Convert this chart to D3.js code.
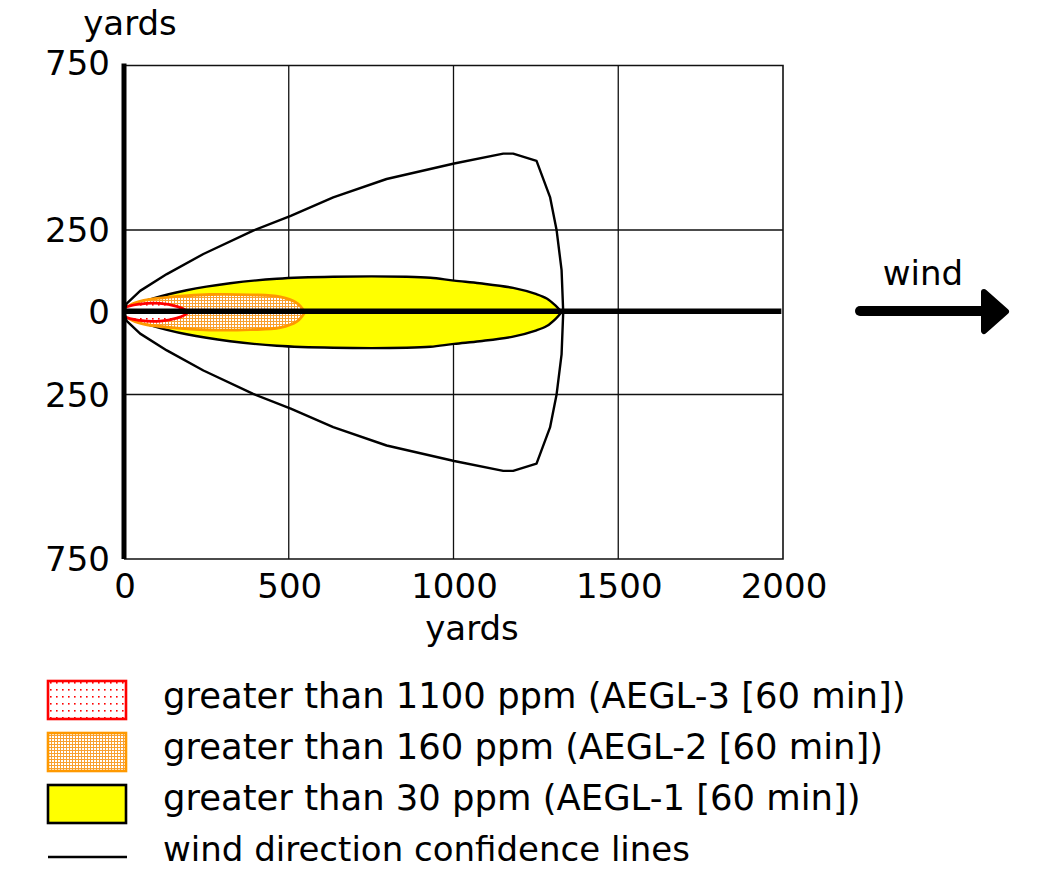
<!DOCTYPE html>
<html>
<head>
<meta charset="utf-8">
<script src="https://cdn.jsdelivr.net/npm/d3@7"></script>
<style>
  body { margin: 0; background: #fff; }
  svg text { font-family: "DejaVu Sans", Verdana, sans-serif; font-size: 34px; fill: #000; }
  svg text.leg { font-size: 35.4px; }
  svg text.leg.last { font-size: 34px; }
</style>
</head>
<body>
<div id="chart"></div>
<script>
// tick values (yards)
var xTicks = [0, 500, 1000, 1500, 2000];
var yTicks = [750, 250, 0, -250, -750];
var xGrid = [500, 1000, 1500];
var yGrid = [250, -250];

// threat zones: [downwind yards, half width yards]
var aegl1Half = [[0,0],[8,12],[89,42],[190,67],[322,88],[464,102],[635,108],[858,108],[930,105],[1002,96],[1080,88],[1181,74],[1252,55],[1283,42],[1310,20],[1328,0]];
var aegl2Half = [[0,0],[18,21],[60,36],[160,48],[262,54],[383,53],[474,47],[525,28],[549,0]];
var aegl3Half = [[0,0],[3,13],[49,25],[109,27],[160,18],[185,8],[197,0]];

// wind direction confidence line, upper side and the arc to the centreline
var confUpper = [[0,0],[8,26],[49,65],[130,116],[241,177],[392,248],[506,293],[635,349],[797,405],[1002,452],[1151,482],[1181,482],[1252,460]];
var confArc = [[1252,460],[1293,350],[1313,249],[1328,128],[1333,0]];

var legendLabels = [
  "greater than 1100 ppm (AEGL-3 [60 min])",
  "greater than 160 ppm (AEGL-2 [60 min])",
  "greater than 30 ppm (AEGL-1 [60 min])",
  "wind direction confidence lines"
];

var width = 1047, height = 890;

var svg = d3.select("#chart").append("svg")
  .attr("width", width)
  .attr("height", height);

var x = d3.scaleLinear().domain([0, 2000]).range([124, 783]);
var y = d3.scaleLinear().domain([-750, 750]).range([559, 65.5]);

// patterns for the dotted zones
var defs = svg.append("defs");
var pRed = defs.append("pattern").attr("id", "dotRed")
  .attr("patternUnits", "userSpaceOnUse").attr("width", 6).attr("height", 7);
pRed.append("rect").attr("width", 6).attr("height", 7).attr("fill", "#fff");
pRed.append("rect").attr("x", 2).attr("y", 3).attr("width", 1.6).attr("height", 1.6).attr("fill", "#ff0000");

var pOr = defs.append("pattern").attr("id", "dotOrange")
  .attr("patternUnits", "userSpaceOnUse").attr("width", 3).attr("height", 3);
pOr.append("rect").attr("width", 3).attr("height", 3).attr("fill", "#fff");
pOr.append("rect").attr("width", 3).attr("height", 1).attr("fill", "#f9a030");
pOr.append("rect").attr("y", 1).attr("width", 1).attr("height", 2).attr("fill", "#f9a030");

// grid + frame
svg.selectAll(".vgrid").data(xGrid).enter().append("line")
  .attr("x1", d => x(d)).attr("x2", d => x(d))
  .attr("y1", y(750)).attr("y2", y(-750))
  .attr("stroke", "#111").attr("stroke-width", 1.3);
svg.selectAll(".hgrid").data(yGrid).enter().append("line")
  .attr("x1", x(0)).attr("x2", x(2000))
  .attr("y1", d => y(d)).attr("y2", d => y(d))
  .attr("stroke", "#111").attr("stroke-width", 1.3);
svg.append("path")
  .attr("d", "M" + x(0) + "," + y(750) + "H" + x(2000) + "V" + y(-750) + "H" + x(0))
  .attr("fill", "none").attr("stroke", "#111").attr("stroke-width", 1.6);

// zone outline: upper edge then mirrored lower edge
function zonePath(half) {
  var pts = half.map(d => [x(d[0]), y(d[1])])
    .concat(half.slice().reverse().map(d => [x(d[0]), y(-d[1])]));
  return d3.line().curve(d3.curveCatmullRom.alpha(0.5))(pts) + "Z";
}

svg.append("path").attr("d", zonePath(aegl1Half))
  .attr("fill", "#ffff00").attr("stroke", "#000").attr("stroke-width", 2.4);
svg.append("path").attr("d", zonePath(aegl2Half))
  .attr("fill", "url(#dotOrange)").attr("stroke", "#ff9900").attr("stroke-width", 2.8);
svg.append("path").attr("d", zonePath(aegl3Half))
  .attr("fill", "url(#dotRed)").attr("stroke", "#ff0000").attr("stroke-width", 2.8);

// confidence lines
var confPts = confUpper.concat(confArc.slice(1))
  .concat(confArc.slice(0, -1).reverse().map(d => [d[0], -d[1]]))
  .concat(confUpper.slice(0, -1).reverse().map(d => [d[0], -d[1]]));
svg.append("path")
  .attr("d", d3.line().x(d => x(d[0])).y(d => y(d[1])).curve(d3.curveLinear)(confPts))
  .attr("fill", "none").attr("stroke", "#000").attr("stroke-width", 2.4)
  .attr("stroke-linejoin", "round");

// wind centreline and y axis
svg.append("line")
  .attr("x1", x(0)).attr("x2", x(1995)).attr("y1", y(0) - 1).attr("y2", y(0) - 1)
  .attr("stroke", "#000").attr("stroke-width", 5.5);
svg.append("line")
  .attr("x1", x(0)).attr("x2", x(0)).attr("y1", y(750) - 2).attr("y2", y(-750))
  .attr("stroke", "#000").attr("stroke-width", 5);

// tick labels
svg.selectAll(".xt").data(xTicks).enter().append("text")
  .attr("x", d => x(d) + 1).attr("y", y(-750) + 39)
  .attr("text-anchor", "middle").text(d => d);
svg.selectAll(".yt").data(yTicks).enter().append("text")
  .attr("x", 110).attr("y", (d, i) => y(d) + (i === 0 ? 9 : 12))
  .attr("text-anchor", "end").text(d => Math.abs(d));

svg.append("text").attr("x", 130).attr("y", 35).attr("text-anchor", "middle").text("yards");
svg.append("text").attr("x", 472).attr("y", 640).attr("text-anchor", "middle").text("yards");

// wind arrow
svg.append("line").attr("x1", 860).attr("x2", 990).attr("y1", 311).attr("y2", 311)
  .attr("stroke", "#000").attr("stroke-width", 10).attr("stroke-linecap", "round");
svg.append("path").attr("d", "M984,292L1006,311.5L984,331Z")
  .attr("fill", "#000").attr("stroke", "#000").attr("stroke-width", 6).attr("stroke-linejoin", "round");
svg.append("text").attr("x", 923).attr("y", 285).attr("text-anchor", "middle").text("wind");

// legend
var legY = [681, 733, 785];
var legFill = ["url(#dotRed)", "url(#dotOrange)", "#ffff00"];
var legStroke = ["#ff0000", "#ff9900", "#000"];
svg.selectAll(".lb").data(legY).enter().append("rect")
  .attr("x", 48).attr("y", d => d).attr("width", 78).attr("height", 38)
  .attr("fill", (d, i) => legFill[i]).attr("stroke", (d, i) => legStroke[i]).attr("stroke-width", 2.6);
svg.append("line").attr("x1", 48).attr("x2", 127).attr("y1", 857).attr("y2", 857)
  .attr("stroke", "#000").attr("stroke-width", 2.6);
svg.selectAll(".lt").data(legendLabels).enter().append("text")
  .attr("class", (d, i) => i === legendLabels.length - 1 ? "leg last" : "leg")
  .attr("x", 163).attr("y", (d, i) => 708 + i * 51).text(d => d);
</script>
</body>
</html>
